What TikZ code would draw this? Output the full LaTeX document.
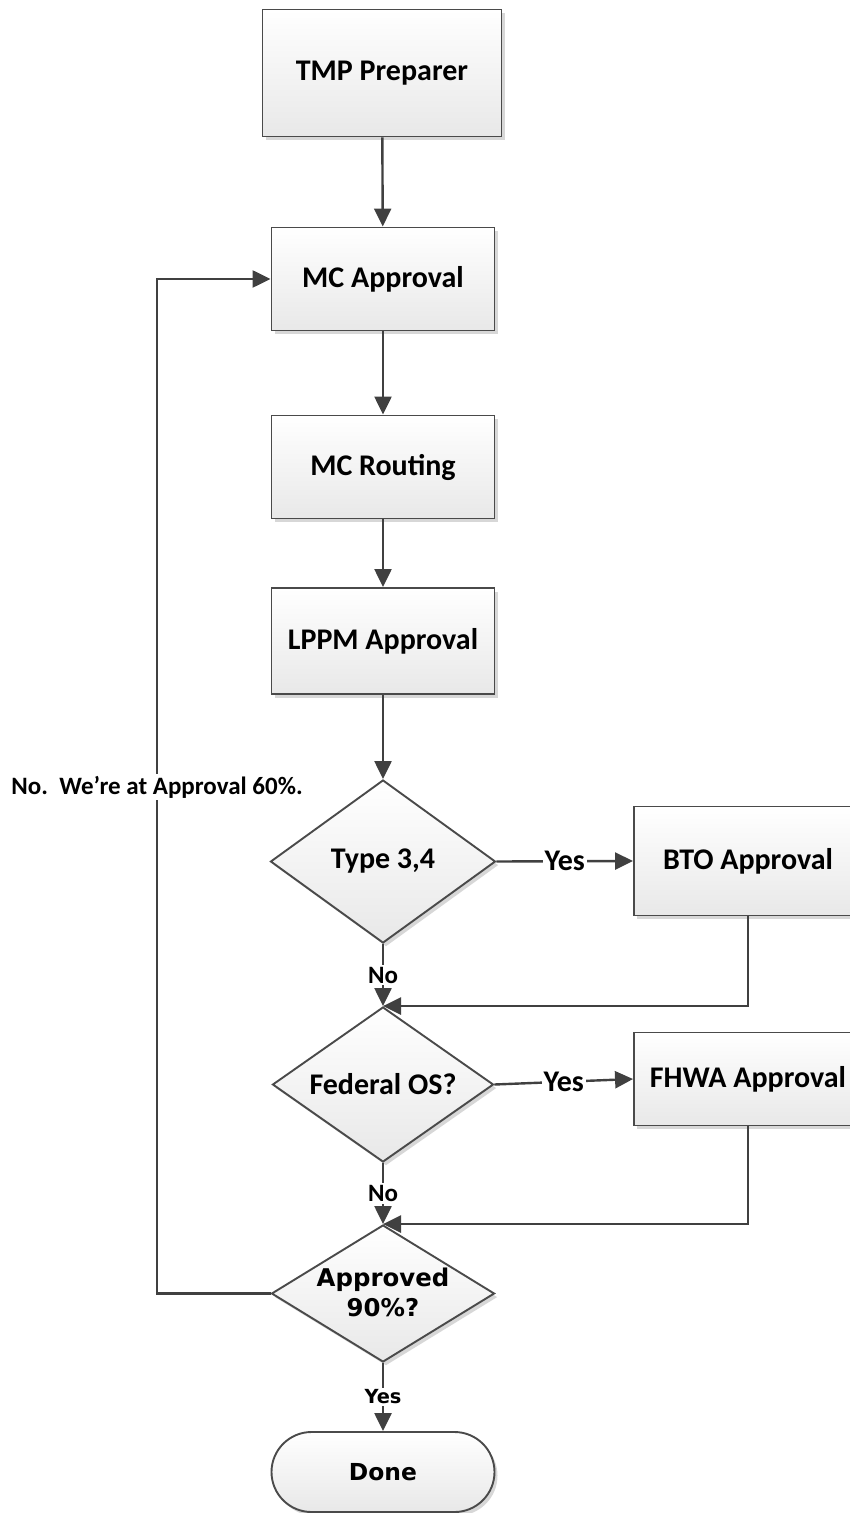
\documentclass[tikz,border=0pt]{standalone}
\usepackage{fontspec}
\setmainfont{Carlito}
\newfontfamily\vfont{DejaVu Sans}
\usetikzlibrary{shapes.geometric,arrows.meta,shadows}
\definecolor{edgec}{HTML}{404040}
\definecolor{bordc}{HTML}{4A4A4A}
\begin{document}
\begin{tikzpicture}[x=0.5pt,y=-0.5pt,
  shp/.style={draw=bordc,line width=0.95pt,top color=white,bottom color=black!9,
    drop shadow={shadow xshift=1.5pt,shadow yshift=-1.8pt,fill=black!35,opacity=0.45},
    font=\fontsize{15}{17}\selectfont\bfseries,inner sep=0pt,align=center},
  proc/.style={shp,rectangle,minimum width=111.5pt,minimum height=51.5pt},
  dec/.style={shp,diamond,minimum width=112.5pt,minimum height=81.5pt},
  dtext/.style={inner sep=0pt,align=center,font=\fontsize{15}{17}\selectfont\bfseries},
  term/.style={shp,rectangle,rounded corners=20pt,minimum width=111.5pt,minimum height=40pt,
    font=\vfont\fontsize{11.7}{13}\selectfont\bfseries},
  arr/.style={draw=edgec,line width=1.2pt,-{Triangle[length=9pt,width=8.5pt]}},
  lbl/.style={fill=white,inner sep=1pt,font=\fontsize{15}{17}\selectfont\bfseries},
  lbls/.style={fill=white,inner sep=1pt,font=\fontsize{12.5}{14}\selectfont\bfseries},
  lblv/.style={fill=white,inner sep=1pt,font=\vfont\fontsize{9.7}{11}\selectfont\bfseries},
]
\useasboundingbox (0,0) rectangle (850,1513);
\clip (0,0) rectangle (850,1513);

\node[proc,minimum width=119.5pt,minimum height=63.5pt] (tmp) at (382,73) {TMP Preparer};
\node[proc] (mca) at (383,279) {MC Approval};
\node[proc] (mcr) at (383,467) {MC Routing};
\node[proc,minimum height=53pt] (lppm) at (383,641) {LPPM Approval};
\node[dec] (type) at (383,861.5) {};
\node[dtext] (typet) at (type) {Type 3,4};
\node[proc,minimum width=114pt,minimum height=54.5pt] (bto) at (748,861) {BTO Approval};
\node[dec,minimum width=110.5pt,minimum height=77.5pt] (fed) at (383,1084.5) {};
\node[dtext] (fedt) at (fed) {Federal OS?};
\node[proc,minimum width=114pt,minimum height=46.5pt] (fhwa) at (748,1079) {FHWA Approval};
\node[dec,minimum width=111.5pt,minimum height=68.5pt] (app) at (383,1293.5) {};
\node[dtext,font=\vfont\fontsize{12.2}{15}\selectfont\bfseries] (appt) at (383,1292) {Approved\\90\%?};
\node[term] (done) at (383,1472) {Done};

\coordinate (lp) at (157,787);

\draw[arr] (tmp) -- (mca);
\draw[arr] (mca) -- (mcr);
\draw[arr] (mcr) -- (lppm);
\draw[arr] (lppm) -- (type);
\draw[arr] (type.east) -- node[lbl] (y1) {Yes} (bto.west);
\draw[arr] (type.south) -- node[lbls] (n1) {No} (fed.north);
\draw[arr] (bto.south) |- (fed.north);
\draw[arr] (fed.east) -- node[lbl] (y2) {Yes} (fhwa.west -| bto.west);
\draw[arr] (fed.south) -- node[lbls] (n2) {No} (app.north);
\draw[arr] (fhwa.south) |- (app.north);
\draw[arr] (app.south) -- node[lblv] (y3) {Yes} (done.north);
\draw[arr] (app.west) -- (app.west -| lp) |- (mca.west);
\node[lbls] (note) at (lp) {No.\ \ We’re at Approval 60\%.};
\end{tikzpicture}
\end{document}
